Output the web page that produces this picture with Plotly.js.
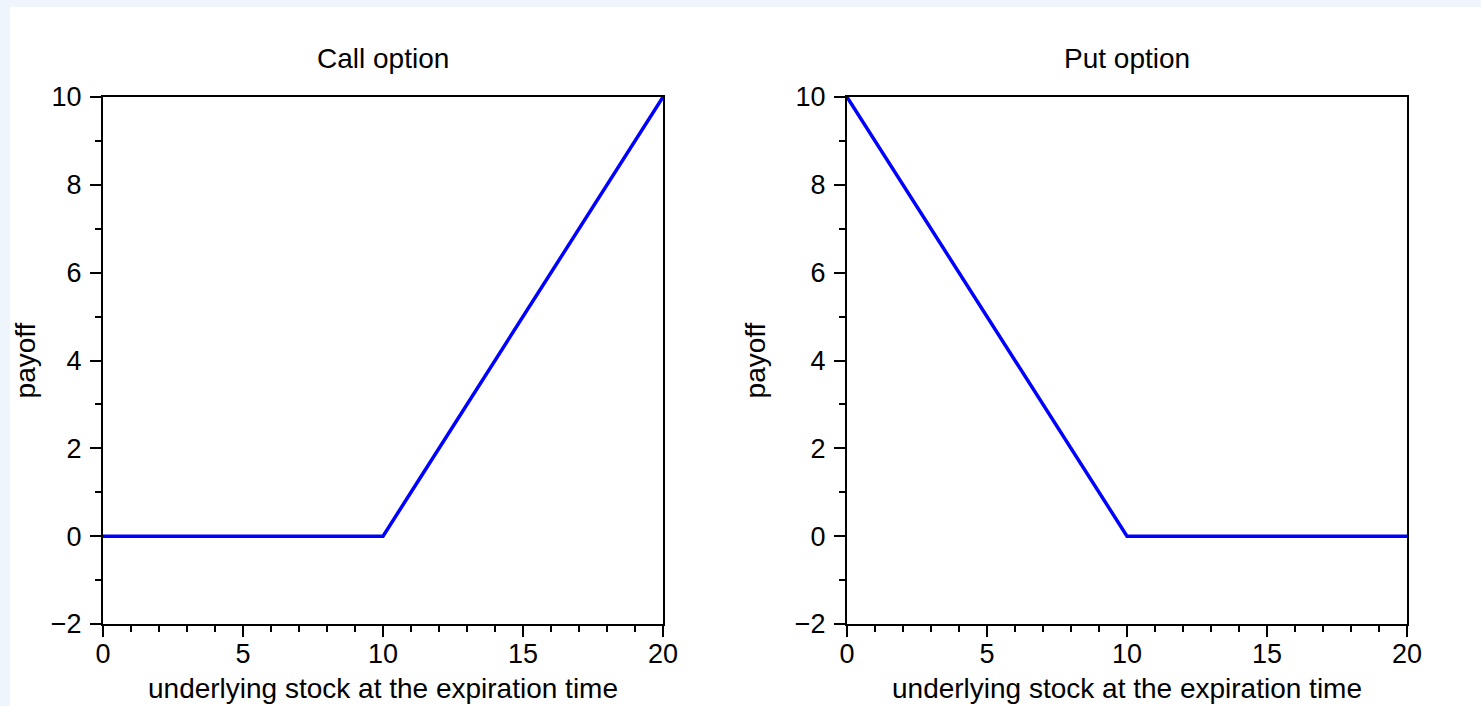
<!DOCTYPE html>
<html>
<head>
<meta charset="utf-8">
<script src="https://cdn.plot.ly/plotly-3.0.1.min.js"></script>
<style>
  html, body { margin: 0; padding: 0; background: #eef5fc; }
  #chart { position: absolute; left: 10px; top: 7px; width: 1471px; height: 699px; }
</style>
</head>
<body>
<div id="chart"></div>
<script>
// Price of the underlying at expiration and the resulting payoffs (strike 10)
const stockPrice = [0, 1, 2, 3, 4, 5, 6, 7, 8, 9, 10, 11, 12, 13, 14, 15, 16, 17, 18, 19, 20];
const callPayoff = [0, 0, 0, 0, 0, 0, 0, 0, 0, 0, 0, 1, 2, 3, 4, 5, 6, 7, 8, 9, 10];
const putPayoff  = [10, 9, 8, 7, 6, 5, 4, 3, 2, 1, 0, 0, 0, 0, 0, 0, 0, 0, 0, 0, 0];
const panelTitles = ['Call option', 'Put option'];
const xLabel = 'underlying stock at the expiration time';
const yLabel = 'payoff';
const xTicks = [0, 5, 10, 15, 20];
const yTicks = [-2, 0, 2, 4, 6, 8, 10];

const W = 1471, H = 699;
const font = { family: 'Liberation Sans, Arial, sans-serif', size: 27, color: '#000' };
const titleFont = { family: 'Liberation Sans, Arial, sans-serif', size: 28, color: '#000' };

function xAxis(domain, anchor) {
  return {
    domain: domain, range: [0, 20], tickvals: xTicks, ticks: 'outside', ticklen: 11,
    tickwidth: 2, tickcolor: '#000', showline: true, linewidth: 2, linecolor: '#000',
    mirror: true, showgrid: false, zeroline: false, tickfont: font, anchor: anchor,
    ticklabelstandoff: -6,
    minor: { dtick: 1, ticks: 'outside', ticklen: 6, tickwidth: 2, tickcolor: '#000', showgrid: false },
    title: { text: xLabel, font: titleFont, standoff: 10 }
  };
}
function yAxis(anchor) {
  return {
    domain: [82 / H, 609 / H], range: [-2, 10], tickvals: yTicks, ticks: 'outside', ticklen: 11,
    tickwidth: 2, tickcolor: '#000', showline: true, linewidth: 2, linecolor: '#000',
    mirror: true, showgrid: false, zeroline: false, tickfont: font, anchor: anchor,
    ticklabelstandoff: 3,
    minor: { dtick: 1, ticks: 'outside', ticklen: 6, tickwidth: 2, tickcolor: '#000', showgrid: false },
    title: { text: yLabel, font: titleFont, standoff: 21 }
  };
}

const d1 = [93 / W, 653 / W], d2 = [837 / W, 1397 / W];

const traces = [
  { x: stockPrice, y: callPayoff, xaxis: 'x', yaxis: 'y', mode: 'lines',
    line: { color: '#0000ff', width: 3.5 }, cliponaxis: false, showlegend: false },
  { x: stockPrice, y: putPayoff, xaxis: 'x2', yaxis: 'y2', mode: 'lines',
    line: { color: '#0000ff', width: 3.5 }, cliponaxis: false, showlegend: false }
];

const layout = {
  width: W, height: H,
  margin: { l: 0, r: 0, t: 0, b: 0 },
  paper_bgcolor: '#ffffff', plot_bgcolor: '#ffffff',
  font: font,
  xaxis: xAxis(d1, 'y'),
  yaxis: yAxis('x'),
  xaxis2: xAxis(d2, 'y2'),
  yaxis2: yAxis('x2'),
  annotations: [
    { text: panelTitles[0], xref: 'paper', yref: 'paper', x: (d1[0] + d1[1]) / 2,
      y: (H - 51) / H, xanchor: 'center', yanchor: 'middle', showarrow: false, font: titleFont },
    { text: panelTitles[1], xref: 'paper', yref: 'paper', x: (d2[0] + d2[1]) / 2,
      y: (H - 51) / H, xanchor: 'center', yanchor: 'middle', showarrow: false, font: titleFont }
  ]
};

Plotly.newPlot('chart', traces, layout, { staticPlot: true, displayModeBar: false });
</script>
</body>
</html>
